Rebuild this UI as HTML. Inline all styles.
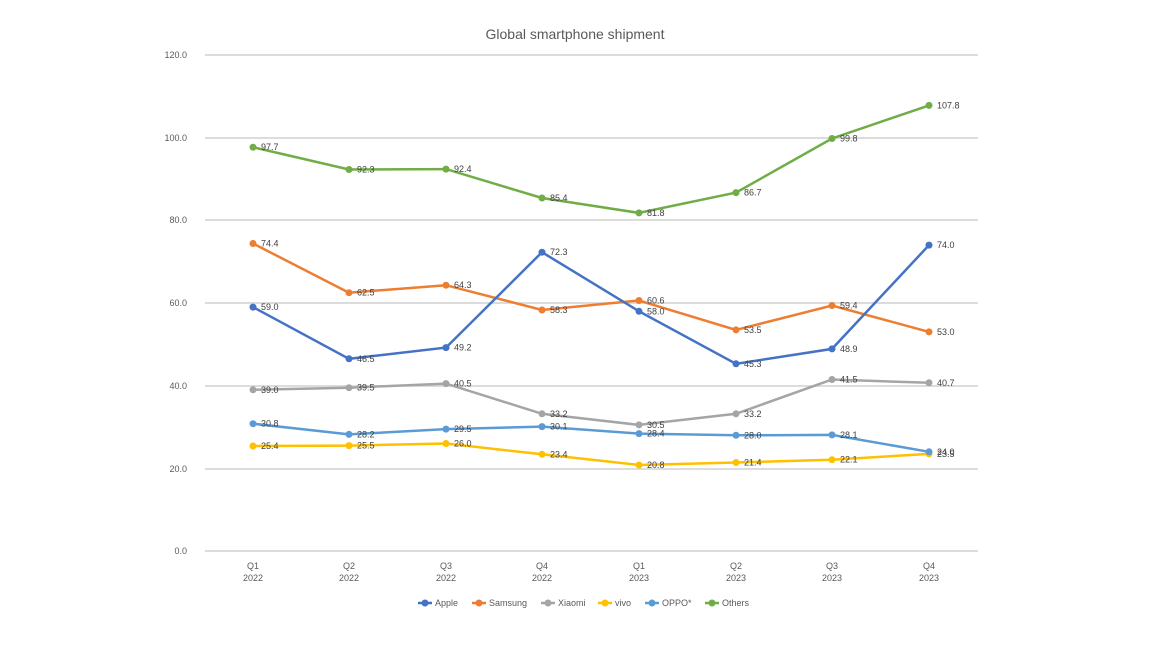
<!DOCTYPE html>
<html><head><meta charset="utf-8"><style>
body{margin:0;background:#fff;}
text{font-family:"Liberation Sans",sans-serif;}
</style></head><body>
<svg width="1149" height="641" xmlns="http://www.w3.org/2000/svg">
<text x="575" y="39" font-size="14" fill="#595959" text-anchor="middle">Global smartphone shipment</text>
<g stroke="#d0d0d0" stroke-width="1.5">
<line x1="205" x2="978" y1="55" y2="55"/><line x1="205" x2="978" y1="138" y2="138"/>
<line x1="205" x2="978" y1="220" y2="220"/><line x1="205" x2="978" y1="303" y2="303"/>
<line x1="205" x2="978" y1="386" y2="386"/><line x1="205" x2="978" y1="469" y2="469"/>
<line x1="205" x2="978" y1="551" y2="551"/>
</g>
<g font-size="9" fill="#595959" text-anchor="end">
<text x="187" y="58">120.0</text><text x="187" y="141">100.0</text><text x="187" y="223">80.0</text>
<text x="187" y="306">60.0</text><text x="187" y="389">40.0</text><text x="187" y="472">20.0</text><text x="187" y="554">0.0</text>
</g>
<g font-size="9" fill="#595959" text-anchor="middle">
<text x="253" y="569">Q1</text><text x="253" y="581">2022</text>
<text x="349" y="569">Q2</text><text x="349" y="581">2022</text>
<text x="446" y="569">Q3</text><text x="446" y="581">2022</text>
<text x="542" y="569">Q4</text><text x="542" y="581">2022</text>
<text x="639" y="569">Q1</text><text x="639" y="581">2023</text>
<text x="736" y="569">Q2</text><text x="736" y="581">2023</text>
<text x="832" y="569">Q3</text><text x="832" y="581">2023</text>
<text x="929" y="569">Q4</text><text x="929" y="581">2023</text>
</g>
<g fill="none" stroke-width="2.5">
<polyline stroke="#70ad47" points="253,147.2 349,169.5 446,169.1 542,198 639,212.9 736,192.6 832,138.5 929,105.4"/>
<polyline stroke="#a5a5a5" points="253,389.8 349,387.7 446,383.6 542,413.8 639,424.9 736,413.8 832,379.5 929,382.8"/>
<polyline stroke="#ffc000" points="253,446 349,445.6 446,443.5 542,454.3 639,465 736,462.5 832,459.7 929,453.9"/>
<polyline stroke="#5b9bd5" points="253,423.7 349,434.4 446,429.1 542,426.6 639,433.6 736,435.3 832,434.9 929,451.8"/>
<polyline stroke="#ed7d31" points="253,243.5 349,292.7 446,285.2 542,310 639,300.5 736,329.9 832,305.5 929,331.9"/>
<polyline stroke="#4472c4" points="253,307.1 349,358.8 446,347.6 542,252.2 639,311.3 736,363.8 832,348.9 929,245.1"/>
</g>
<g fill="#70ad47"><circle cx="253" cy="147.2" r="3.5"/><circle cx="349" cy="169.5" r="3.5"/><circle cx="446" cy="169.1" r="3.5"/><circle cx="542" cy="198" r="3.5"/><circle cx="639" cy="212.9" r="3.5"/><circle cx="736" cy="192.6" r="3.5"/><circle cx="832" cy="138.5" r="3.5"/><circle cx="929" cy="105.4" r="3.5"/></g>
<g fill="#a5a5a5"><circle cx="253" cy="389.8" r="3.5"/><circle cx="349" cy="387.7" r="3.5"/><circle cx="446" cy="383.6" r="3.5"/><circle cx="542" cy="413.8" r="3.5"/><circle cx="639" cy="424.9" r="3.5"/><circle cx="736" cy="413.8" r="3.5"/><circle cx="832" cy="379.5" r="3.5"/><circle cx="929" cy="382.8" r="3.5"/></g>
<g fill="#ffc000"><circle cx="253" cy="446" r="3.5"/><circle cx="349" cy="445.6" r="3.5"/><circle cx="446" cy="443.5" r="3.5"/><circle cx="542" cy="454.3" r="3.5"/><circle cx="639" cy="465" r="3.5"/><circle cx="736" cy="462.5" r="3.5"/><circle cx="832" cy="459.7" r="3.5"/><circle cx="929" cy="453.9" r="3.5"/></g>
<g fill="#5b9bd5"><circle cx="253" cy="423.7" r="3.5"/><circle cx="349" cy="434.4" r="3.5"/><circle cx="446" cy="429.1" r="3.5"/><circle cx="542" cy="426.6" r="3.5"/><circle cx="639" cy="433.6" r="3.5"/><circle cx="736" cy="435.3" r="3.5"/><circle cx="832" cy="434.9" r="3.5"/><circle cx="929" cy="451.8" r="3.5"/></g>
<g fill="#ed7d31"><circle cx="253" cy="243.5" r="3.5"/><circle cx="349" cy="292.7" r="3.5"/><circle cx="446" cy="285.2" r="3.5"/><circle cx="542" cy="310" r="3.5"/><circle cx="639" cy="300.5" r="3.5"/><circle cx="736" cy="329.9" r="3.5"/><circle cx="832" cy="305.5" r="3.5"/><circle cx="929" cy="331.9" r="3.5"/></g>
<g fill="#4472c4"><circle cx="253" cy="307.1" r="3.5"/><circle cx="349" cy="358.8" r="3.5"/><circle cx="446" cy="347.6" r="3.5"/><circle cx="542" cy="252.2" r="3.5"/><circle cx="639" cy="311.3" r="3.5"/><circle cx="736" cy="363.8" r="3.5"/><circle cx="832" cy="348.9" r="3.5"/><circle cx="929" cy="245.1" r="3.5"/></g>
<g font-size="9" fill="#404040">
<text x="261" y="150">97.7</text><text x="357" y="172.5">92.3</text><text x="454" y="172">92.4</text><text x="550" y="201">85.4</text><text x="647" y="216">81.8</text><text x="744" y="195.6">86.7</text><text x="840" y="141.5">99.8</text><text x="937" y="108.4">107.8</text>
<text x="261" y="392.8">39.0</text><text x="357" y="390.7">39.5</text><text x="454" y="386.6">40.5</text><text x="550" y="416.8">33.2</text><text x="647" y="428">30.5</text><text x="744" y="416.8">33.2</text><text x="840" y="382.5">41.5</text><text x="937" y="385.8">40.7</text>
<text x="261" y="449">25.4</text><text x="357" y="448.6">25.5</text><text x="454" y="446.5">26.0</text><text x="550" y="457.3">23.4</text><text x="647" y="468">20.8</text><text x="744" y="465.5">21.4</text><text x="840" y="462.7">22.1</text><text x="937" y="457">23.5</text>
<text x="261" y="426.7">30.8</text><text x="357" y="437.4">28.2</text><text x="454" y="432.1">29.5</text><text x="550" y="429.6">30.1</text><text x="647" y="436.6">28.4</text><text x="744" y="438.3">28.0</text><text x="840" y="437.9">28.1</text><text x="937" y="454.8">24.0</text>
<text x="261" y="246.5">74.4</text><text x="357" y="295.7">62.5</text><text x="454" y="288.2">64.3</text><text x="550" y="313">58.3</text><text x="647" y="303.5">60.6</text><text x="744" y="332.9">53.5</text><text x="840" y="308.5">59.4</text><text x="937" y="334.9">53.0</text>
<text x="261" y="310.1">59.0</text><text x="357" y="361.8">46.5</text><text x="454" y="350.6">49.2</text><text x="550" y="255.2">72.3</text><text x="647" y="314.3">58.0</text><text x="744" y="366.8">45.3</text><text x="840" y="351.9">48.9</text><text x="937" y="248.1">74.0</text>
</g>
<g font-size="9" fill="#595959">
<line x1="418" x2="432" y1="603" y2="603" stroke="#4472c4" stroke-width="2.5"/><circle cx="425" cy="603" r="3.5" fill="#4472c4"/><text x="435" y="606">Apple</text>
<line x1="472" x2="486" y1="603" y2="603" stroke="#ed7d31" stroke-width="2.5"/><circle cx="479" cy="603" r="3.5" fill="#ed7d31"/><text x="489" y="606">Samsung</text>
<line x1="541" x2="555" y1="603" y2="603" stroke="#a5a5a5" stroke-width="2.5"/><circle cx="548" cy="603" r="3.5" fill="#a5a5a5"/><text x="558" y="606">Xiaomi</text>
<line x1="598" x2="612" y1="603" y2="603" stroke="#ffc000" stroke-width="2.5"/><circle cx="605" cy="603" r="3.5" fill="#ffc000"/><text x="615" y="606">vivo</text>
<line x1="645" x2="659" y1="603" y2="603" stroke="#5b9bd5" stroke-width="2.5"/><circle cx="652" cy="603" r="3.5" fill="#5b9bd5"/><text x="662" y="606">OPPO*</text>
<line x1="705" x2="719" y1="603" y2="603" stroke="#70ad47" stroke-width="2.5"/><circle cx="712" cy="603" r="3.5" fill="#70ad47"/><text x="722" y="606">Others</text>
</g>
</svg>
</body></html>
